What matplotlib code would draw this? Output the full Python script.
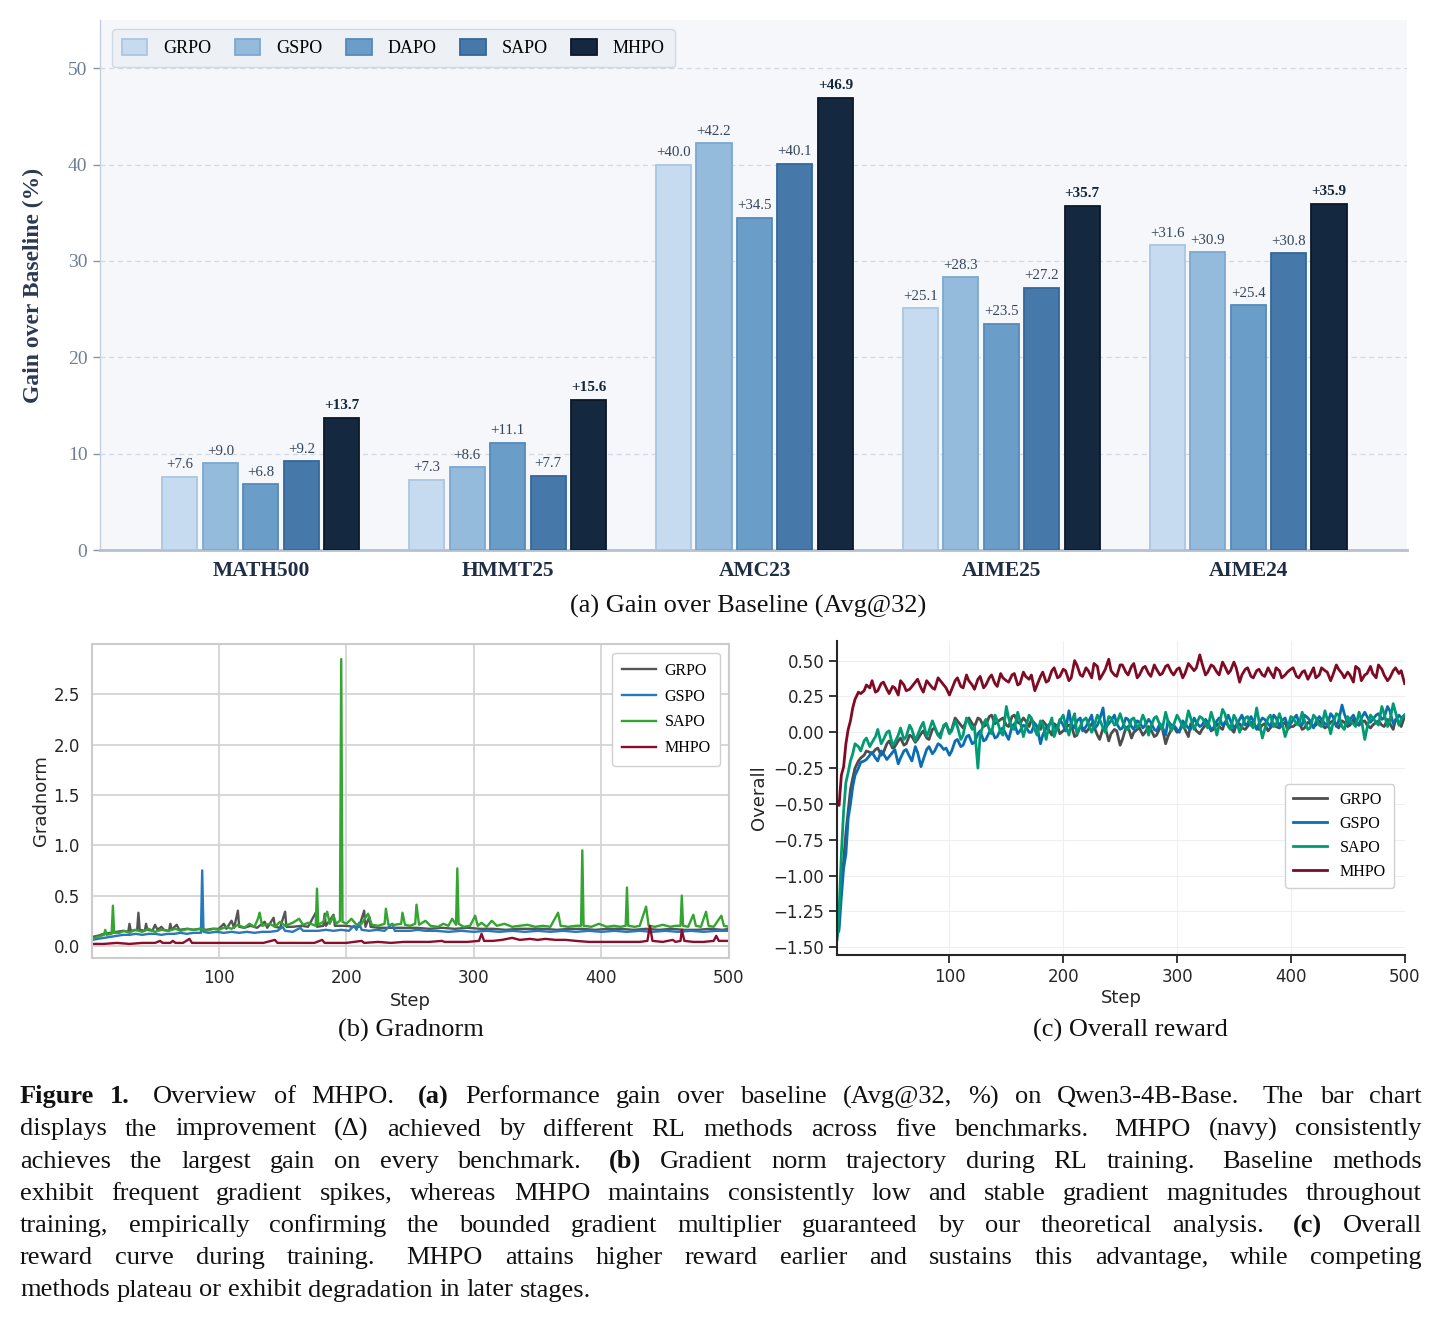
import matplotlib
matplotlib.use("Agg")
import matplotlib.pyplot as plt
from matplotlib.font_manager import FontProperties
import numpy as np

SERIF = "Liberation Serif"
SANS = "DejaVu Sans"
plt.rcParams["font.family"] = [SERIF, "DejaVu Serif"]
plt.rcParams["axes.unicode_minus"] = True

# ---------------- data: panel (a) ----------------
benchmarks = ["MATH500", "HMMT25", "AMC23", "AIME25", "AIME24"]
methods = ["GRPO", "GSPO", "DAPO", "SAPO", "MHPO"]
gain_grpo = [7.6, 7.3, 40.0, 25.1, 31.6]
gain_gspo = [9.0, 8.6, 42.2, 28.3, 30.9]
gain_dapo = [6.8, 11.1, 34.5, 23.5, 25.4]
gain_sapo = [9.2, 7.7, 40.1, 27.2, 30.8]
gain_mhpo = [13.7, 15.6, 46.9, 35.7, 35.9]

# ---------------- data: panel (b) gradnorm ----------------
g_grpo_steps = [1, 5, 10, 15, 20, 25, 29, 30, 31, 36, 37, 38, 42, 43, 44, 48, 50, 52, 55, 57, 61, 62, 63, 67, 69,
                75, 80, 85, 90, 95, 100, 104, 106, 110, 112, 115, 116, 120, 125, 130, 136, 138, 143, 144, 148,
                152, 153, 158, 165, 170, 176, 177, 182, 183, 184, 190, 191, 196, 200, 205, 210, 214, 215, 218,
                219, 225, 235, 245, 255, 265, 275, 285, 295, 305, 315, 325, 335, 345, 355, 365, 375, 385, 395,
                405, 415, 425, 435, 445, 455, 465, 475, 485, 495, 500]
g_grpo_vals = [0.09, 0.10, 0.12, 0.13, 0.14, 0.15, 0.14, 0.22, 0.15, 0.16, 0.33, 0.16, 0.15, 0.22, 0.16, 0.15,
               0.21, 0.16, 0.19, 0.16, 0.15, 0.22, 0.16, 0.21, 0.16, 0.17, 0.16, 0.17, 0.16, 0.17, 0.17, 0.22,
               0.17, 0.25, 0.18, 0.35, 0.19, 0.18, 0.20, 0.18, 0.24, 0.18, 0.28, 0.19, 0.18, 0.34, 0.19, 0.19,
               0.20, 0.19, 0.33, 0.19, 0.20, 0.32, 0.20, 0.31, 0.20, 0.20, 0.20, 0.19, 0.19, 0.35, 0.19, 0.29,
               0.19, 0.18, 0.18, 0.18, 0.18, 0.17, 0.18, 0.17, 0.18, 0.17, 0.17, 0.16, 0.17, 0.17, 0.17, 0.16,
               0.17, 0.17, 0.16, 0.17, 0.17, 0.16, 0.17, 0.16, 0.17, 0.16, 0.16, 0.17, 0.16, 0.17]

g_gspo_steps = [1, 5, 10, 15, 20, 25, 30, 35, 40, 45, 50, 55, 60, 65, 70, 75, 80, 86, 87, 88, 92, 98, 104, 110,
                116, 122, 128, 134, 140, 146, 150, 152, 158, 164, 166, 172, 178, 184, 190, 196, 202, 206, 208,
                210, 212, 218, 224, 230, 236, 238, 244, 250, 256, 262, 270, 280, 290, 300, 310, 320, 330, 340,
                350, 360, 370, 380, 390, 400, 410, 420, 430, 440, 450, 460, 470, 480, 490, 500]
g_gspo_vals = [0.06, 0.07, 0.08, 0.09, 0.10, 0.11, 0.11, 0.12, 0.11, 0.12, 0.12, 0.11, 0.12, 0.12, 0.13, 0.12,
               0.13, 0.13, 0.75, 0.14, 0.13, 0.14, 0.13, 0.14, 0.13, 0.14, 0.13, 0.14, 0.14, 0.15, 0.19, 0.15,
               0.14, 0.18, 0.15, 0.15, 0.15, 0.16, 0.15, 0.16, 0.15, 0.20, 0.16, 0.23, 0.16, 0.15, 0.16, 0.15,
               0.22, 0.15, 0.15, 0.15, 0.16, 0.15, 0.15, 0.14, 0.15, 0.14, 0.15, 0.14, 0.15, 0.14, 0.15, 0.14,
               0.15, 0.14, 0.15, 0.14, 0.15, 0.14, 0.15, 0.14, 0.15, 0.14, 0.15, 0.14, 0.15, 0.15]

g_sapo_steps = [1, 5, 10, 11, 12, 16, 17, 18, 22, 26, 30, 34, 40, 45, 50, 55, 60, 66, 70, 76, 80, 86, 90, 96,
                100, 106, 110, 115, 120, 124, 128, 131, 132, 134, 140, 144, 148, 152, 158, 163, 166, 170, 176,
                177, 178, 182, 185, 187, 190, 192, 195, 196, 197, 200, 204, 208, 212, 217, 220, 225, 230, 231,
                233, 238, 243, 244, 246, 250, 254, 255, 257, 262, 266, 272, 276, 280, 283, 286, 287, 288, 292,
                297, 301, 303, 306, 310, 314, 318, 324, 330, 336, 342, 348, 354, 360, 366, 368, 374, 380, 384,
                385, 386, 392, 398, 404, 410, 415, 419, 420, 421, 426, 430, 435, 437, 442, 448, 454, 458, 462,
                463, 464, 468, 472, 474, 478, 482, 484, 488, 494, 496, 500]
g_sapo_vals = [0.07, 0.09, 0.11, 0.16, 0.11, 0.12, 0.40, 0.13, 0.13, 0.15, 0.13, 0.16, 0.14, 0.17, 0.14, 0.16,
               0.15, 0.17, 0.15, 0.17, 0.16, 0.17, 0.15, 0.17, 0.16, 0.19, 0.17, 0.21, 0.18, 0.22, 0.19, 0.28,
               0.33, 0.20, 0.22, 0.19, 0.24, 0.20, 0.23, 0.27, 0.21, 0.23, 0.20, 0.57, 0.21, 0.24, 0.34, 0.22,
               0.30, 0.22, 0.25, 2.85, 0.24, 0.22, 0.27, 0.21, 0.22, 0.32, 0.21, 0.20, 0.22, 0.37, 0.21, 0.21,
               0.22, 0.33, 0.21, 0.20, 0.22, 0.41, 0.21, 0.25, 0.20, 0.19, 0.22, 0.20, 0.27, 0.21, 0.77, 0.22,
               0.19, 0.20, 0.30, 0.20, 0.23, 0.19, 0.25, 0.20, 0.22, 0.19, 0.20, 0.21, 0.19, 0.20, 0.19, 0.33,
               0.20, 0.19, 0.20, 0.20, 0.95, 0.20, 0.19, 0.22, 0.19, 0.20, 0.19, 0.20, 0.58, 0.20, 0.19, 0.20,
               0.39, 0.20, 0.19, 0.21, 0.19, 0.20, 0.20, 0.50, 0.20, 0.19, 0.31, 0.20, 0.19, 0.34, 0.20, 0.19,
               0.30, 0.20, 0.19]

g_mhpo_steps = [1, 10, 20, 30, 40, 50, 54, 56, 62, 64, 66, 72, 77, 79, 85, 95, 105, 115, 125, 135, 144, 146,
                155, 165, 175, 181, 183, 190, 200, 212, 214, 225, 235, 245, 255, 265, 275, 277, 285, 295, 304,
                306, 308, 315, 322, 330, 336, 344, 350, 356, 364, 372, 380, 390, 400, 410, 420, 430, 436, 438,
                440, 448, 456, 458, 462, 463, 465, 472, 480, 488, 490, 492, 500]
g_mhpo_vals = [0.02, 0.02, 0.03, 0.02, 0.03, 0.03, 0.05, 0.03, 0.03, 0.05, 0.03, 0.03, 0.07, 0.03, 0.03, 0.03,
               0.03, 0.03, 0.03, 0.03, 0.06, 0.03, 0.03, 0.03, 0.03, 0.06, 0.03, 0.03, 0.03, 0.05, 0.03, 0.04,
               0.03, 0.04, 0.04, 0.04, 0.05, 0.04, 0.04, 0.04, 0.05, 0.12, 0.05, 0.05, 0.06, 0.08, 0.06, 0.07,
               0.06, 0.07, 0.06, 0.06, 0.05, 0.04, 0.04, 0.04, 0.04, 0.04, 0.05, 0.20, 0.05, 0.04, 0.06, 0.04,
               0.05, 0.16, 0.05, 0.04, 0.04, 0.05, 0.10, 0.05, 0.05]

# ---------------- data: panel (c) overall reward ----------------
r_steps = [1, 3, 5, 7, 9, 11, 13, 15, 17, 20] + list(range(25, 505, 5))
r_mhpo = [-0.48, -0.51, -0.30, -0.24, -0.08, 0.02, 0.08, 0.17, 0.23, 0.28,
          0.29, 0.31, 0.28, 0.34, 0.30, 0.32, 0.26, 0.33, 0.30, 0.35,
          0.31, 0.36, 0.31, 0.38, 0.33, 0.26, 0.36, 0.32, 0.40, 0.33,
          0.37, 0.31, 0.38, 0.34, 0.41, 0.36, 0.40, 0.33, 0.42, 0.37,
          0.29, 0.39, 0.35, 0.43, 0.38, 0.44, 0.36, 0.50, 0.40, 0.45,
          0.38, 0.46, 0.41, 0.51, 0.40, 0.47, 0.42, 0.46, 0.38, 0.45,
          0.41, 0.47, 0.40, 0.46, 0.42, 0.44, 0.38, 0.48, 0.43, 0.54,
          0.40, 0.47, 0.42, 0.49, 0.41, 0.49, 0.35, 0.44, 0.39, 0.43,
          0.40, 0.45, 0.38, 0.43, 0.40, 0.44, 0.39, 0.42, 0.37, 0.45,
          0.40, 0.43, 0.36, 0.47, 0.41, 0.42, 0.35, 0.44, 0.40, 0.46,
          0.38, 0.44, 0.36, 0.43, 0.41, 0.34]
r_grpo = [-1.45, -1.30, -1.05, -0.90, -0.70, -0.55, -0.40, -0.32, -0.25, -0.20,
          -0.16, -0.14, -0.12, -0.16, -0.08, -0.11, -0.06, -0.09, -0.02, -0.07,
          -0.01, -0.04, 0.02, -0.02, 0.04, 0.00, 0.10, 0.05, 0.08, 0.06,
          0.10, 0.04, 0.11, 0.06, 0.09, 0.05, 0.11, 0.07, 0.10, 0.04,
          0.06, 0.02, 0.05, -0.02, 0.04, 0.01, 0.05, -0.03, 0.04, 0.00,
          0.06, -0.02, 0.03, -0.06, 0.02, -0.09, 0.03, -0.04, 0.02, -0.02,
          0.04, -0.03, 0.03, -0.08, 0.02, 0.00, 0.05, -0.03, 0.04, -0.01,
          0.05, 0.01, 0.06, 0.02, 0.05, 0.00, 0.06, 0.02, 0.07, 0.03,
          0.05, 0.01, 0.06, 0.03, 0.07, 0.04, 0.06, 0.02, 0.07, 0.04,
          0.08, 0.03, 0.07, 0.05, 0.08, 0.04, 0.09, 0.05, 0.08, 0.03,
          0.07, 0.05, 0.09, 0.02, 0.07, 0.11]
r_gspo = [-1.42, -1.38, -1.15, -0.95, -0.85, -0.60, -0.50, -0.38, -0.30, -0.25,
          -0.20, -0.16, -0.18, -0.13, -0.19, -0.14, -0.22, -0.13, -0.17, -0.10,
          -0.24, -0.12, -0.15, -0.08, -0.12, -0.16, -0.06, -0.10, -0.03, -0.08,
          -0.01, -0.06, 0.00, -0.04, 0.02, -0.02, 0.04, -0.01, 0.05, 0.00,
          0.06, -0.08, 0.03, 0.07, 0.02, 0.05, 0.15, 0.03, 0.10, 0.04,
          0.12, 0.05, 0.17, 0.06, 0.12, 0.02, 0.10, 0.04, 0.08, 0.03,
          0.09, 0.02, 0.06, -0.02, 0.05, 0.02, 0.08, 0.03, 0.10, 0.04,
          0.09, 0.02, 0.08, 0.05, 0.12, 0.03, 0.09, 0.05, 0.11, 0.02,
          0.10, 0.06, 0.12, 0.04, 0.10, 0.06, 0.12, 0.05, 0.10, 0.03,
          0.11, 0.06, 0.13, 0.04, 0.19, 0.06, 0.12, 0.05, 0.14, 0.07,
          0.12, 0.09, 0.18, 0.06, 0.12, 0.12]
r_sapo = [-1.45, -1.25, -0.85, -0.55, -0.35, -0.28, -0.20, -0.15, -0.08, -0.10,
          -0.06, -0.10, -0.03, -0.08, 0.00, -0.09, -0.02, -0.05, 0.05, -0.06,
          0.04, -0.03, 0.08, -0.02, 0.05, -0.01, 0.08, -0.05, 0.10, 0.02,
          -0.25, 0.06, 0.02, 0.12, 0.00, 0.18, 0.03, 0.14, -0.03, 0.12,
          0.02, 0.08, -0.05, 0.10, 0.04, 0.12, -0.02, 0.13, 0.04, 0.10,
          0.00, 0.12, 0.03, 0.11, 0.05, 0.13, 0.02, 0.09, 0.03, 0.12,
          -0.02, 0.10, 0.05, 0.14, 0.01, 0.12, 0.04, 0.15, 0.02, 0.11,
          0.06, 0.14, -0.02, 0.16, 0.04, 0.12, 0.00, 0.10, 0.05, 0.17,
          -0.04, 0.10, 0.04, 0.13, -0.03, 0.11, 0.06, 0.14, 0.02, 0.12,
          0.05, 0.15, -0.01, 0.13, 0.04, 0.11, 0.06, 0.14, -0.05, 0.12,
          0.07, 0.18, 0.04, 0.20, 0.05, 0.12]

# readings between the main samples (steps 22, 27, ..., 497)
r_steps_mid = list(range(22, 502, 5))
r_mhpo_mid = [0.27, 0.33, 0.36, 0.29, 0.35, 0.27, 0.31, 0.36, 0.29, 0.32,
              0.37, 0.28, 0.34, 0.30, 0.36, 0.31, 0.30, 0.38, 0.31, 0.36,
              0.30, 0.39, 0.33, 0.40, 0.32, 0.38, 0.35, 0.41, 0.34, 0.39,
              0.40, 0.33, 0.42, 0.36, 0.45, 0.39, 0.43, 0.38, 0.47, 0.39,
              0.43, 0.48, 0.37, 0.44, 0.43, 0.39, 0.47, 0.40, 0.48, 0.40,
              0.46, 0.39, 0.44, 0.41, 0.47, 0.40, 0.45, 0.41, 0.46, 0.45,
              0.48, 0.42, 0.46, 0.40, 0.46, 0.43, 0.45, 0.40, 0.45, 0.38,
              0.44, 0.39, 0.42, 0.45, 0.38, 0.42, 0.45, 0.38, 0.43, 0.40,
              0.38, 0.45, 0.42, 0.40, 0.44, 0.38, 0.40, 0.46, 0.36, 0.41,
              0.41, 0.47, 0.40, 0.38, 0.45, 0.43]
r_grpo_mid = [-0.18, -0.13, -0.15, -0.11, -0.14, -0.06, -0.10, -0.04, -0.08, -0.03,
              -0.05, 0.01, -0.05, 0.03, -0.01, 0.06, 0.02, 0.08, 0.03, 0.10,
              0.04, 0.09, 0.05, 0.12, 0.07, 0.10, 0.04, 0.12, 0.06, 0.08,
              0.09, 0.04, 0.08, 0.02, 0.06, -0.01, 0.03, 0.05, -0.02, 0.03,
              0.02, 0.04, -0.05, 0.03, -0.01, 0.01, -0.05, 0.04, 0.00, 0.03,
              0.00, 0.02, -0.02, 0.03, -0.03, 0.04, 0.01, 0.02, 0.06, 0.01,
              0.02, 0.06, 0.02, 0.04, 0.07, 0.03, 0.05, 0.03, 0.04, 0.06,
              0.02, 0.06, 0.03, 0.04, 0.05, 0.02, 0.04, 0.07, 0.03, 0.06,
              0.05, 0.06, 0.04, 0.08, 0.03, 0.07, 0.05, 0.06, 0.07, 0.05,
              0.05, 0.08, 0.04, 0.06, 0.09, 0.04]
r_gspo_mid = [-0.21, -0.19, -0.14, -0.20, -0.15, -0.17, -0.12, -0.18, -0.12, -0.20,
              -0.14, -0.19, -0.10, -0.13, -0.09, -0.11, -0.13, -0.05, -0.09, -0.02,
              -0.07, 0.01, -0.05, 0.02, -0.03, 0.03, -0.05, 0.06, 0.01, 0.04,
              0.00, 0.04, -0.02, 0.05, 0.04, 0.09, 0.01, 0.06, 0.08, 0.01,
              0.07, 0.02, 0.09, 0.03, 0.08, 0.06, 0.03, 0.09, 0.02, 0.07,
              0.05, 0.07, 0.01, 0.04, 0.08, 0.05, 0.00, 0.06, 0.02, 0.07,
              0.05, 0.07, 0.03, 0.10, 0.06, 0.08, 0.05, 0.12, 0.06, 0.08,
              0.06, 0.09, 0.04, 0.10, 0.08, 0.05, 0.09, 0.07, 0.12, 0.08,
              0.07, 0.09, 0.05, 0.11, 0.08, 0.13, 0.09, 0.08, 0.10, 0.11,
              0.09, 0.13, 0.10, 0.15, 0.08, 0.10]
r_sapo_mid = [-0.13, -0.04, -0.07, 0.02, -0.05, 0.01, -0.07, 0.03, -0.03, 0.02,
              -0.02, 0.07, 0.01, 0.04, -0.04, 0.06, 0.01, 0.04, -0.02, 0.07,
              0.04, -0.02, 0.09, -0.01, 0.08, -0.02, 0.10, 0.02, 0.08, 0.03,
              0.10, -0.02, 0.06, 0.03, -0.03, 0.08, 0.05, 0.06, -0.01, 0.08,
              0.06, 0.04, 0.09, 0.00, 0.10, 0.06, 0.08, 0.02, 0.10, 0.05,
              0.08, 0.04, 0.11, 0.02, 0.08, 0.05, 0.09, 0.03, 0.10, 0.06,
              0.10, 0.03, 0.09, 0.05, 0.13, 0.02, 0.09, 0.04, 0.11, 0.03,
              0.08, 0.02, 0.12, 0.05, 0.08, 0.02, 0.10, 0.05, 0.08, 0.03,
              0.10, 0.04, 0.09, 0.06, 0.12, 0.02, 0.08, 0.04, 0.09, 0.03,
              0.10, 0.05, 0.13, 0.08, 0.14, 0.09]

caption_lines = [
    "**Figure 1.** Overview of MHPO. **(a)** Performance gain over baseline (Avg@32, %) on Qwen3-4B-Base. The bar chart",
    "displays the improvement (Δ) achieved by different RL methods across five benchmarks. MHPO (navy) consistently",
    "achieves the largest gain on every benchmark. **(b)** Gradient norm trajectory during RL training. Baseline methods",
    "exhibit frequent gradient spikes, whereas MHPO maintains consistently low and stable gradient magnitudes throughout",
    "training, empirically confirming the bounded gradient multiplier guaranteed by our theoretical analysis. **(c)** Overall",
    "reward curve during training. MHPO attains higher reward earlier and sustains this advantage, while competing",
    "methods plateau or exhibit degradation in later stages.",
]

# ---------------- figure ----------------
W, H = 1440, 1322
fig = plt.figure(figsize=(W / 100, H / 100), dpi=100)
fig.patch.set_facecolor("white")


def fx(px):
    return px / W


def fy(py):
    return 1 - py / H


# ---------------- panel (a) ----------------
axa = fig.add_axes([fx(100), fy(550), fx(1407) - fx(100), fy(20) - fy(550)])
axa.set_facecolor("#f5f7fa")
bar_fc = ["#c6dbef", "#94bbdc", "#6a9ec9", "#4679a9", "#14283f"]
bar_ec = ["#aac6e1", "#7ca8d0", "#5589bb", "#35679a", "#0b1828"]
series_a = [gain_grpo, gain_gspo, gain_dapo, gain_sapo, gain_mhpo]
xc = np.arange(len(benchmarks))
pitch, bw = 0.164, 0.142
for i, (name, vals) in enumerate(zip(methods, series_a)):
    xs = xc + (i - 2) * pitch
    axa.bar(xs, vals, width=bw, color=bar_fc[i], edgecolor=bar_ec[i], linewidth=1.3,
            label=name, zorder=3)
    is_best = (name == "MHPO")
    for xi, v in zip(xs, vals):
        axa.annotate(f"+{v:.1f}", (xi, v), xytext=(0, 4), textcoords="offset points",
                     ha="center", va="bottom", fontsize=11 if is_best else 10.7,
                     fontweight="bold" if is_best else "normal",
                     color="#15263a" if is_best else "#34445a", family=SERIF, zorder=4)
axa.set_xlim(-0.652, 4.644)
axa.set_ylim(0, 55)
axa.set_yticks([0, 10, 20, 30, 40, 50])
axa.set_xticks(xc)
axa.set_xticklabels(benchmarks, fontsize=15.5, fontweight="bold", color="#1f2e44", family=SERIF)
axa.tick_params(axis="x", length=0, pad=8)
axa.tick_params(axis="y", length=5, width=1, color="#8795a8", labelsize=14, labelcolor="#6e7f94", pad=4)
for lab in axa.get_yticklabels():
    lab.set_fontfamily(SERIF)
axa.yaxis.grid(True, linestyle=(0, (4, 3)), color="#d3d9e2", linewidth=0.9)
axa.set_axisbelow(True)
for s in ["top", "right"]:
    axa.spines[s].set_visible(False)
axa.spines["left"].set_color("#c5cfdb")
axa.spines["left"].set_linewidth(1.0)
axa.spines["bottom"].set_color("#b4c0cf")
axa.spines["bottom"].set_linewidth(2.0)
leg = axa.legend(loc="upper left", bbox_to_anchor=(0.0092, 0.983), borderaxespad=0, ncol=5,
                 prop={"family": SERIF, "size": 13}, handlelength=1.4, handleheight=1.0,
                 handletextpad=0.9, columnspacing=1.3, borderpad=0.55, fancybox=True, frameon=True)
fr = leg.get_frame()
fr.set_facecolor("#edf1f6")
fr.set_edgecolor("#cfd8e3")
fr.set_alpha(1)
fr.set_linewidth(1.0)
fig.text(fx(33), fy(285), "Gain over Baseline (%)", rotation=90, ha="center", va="center",
         fontsize=17, fontweight="bold", color="#2b3a52", family=SERIF)
fig.text(fx(748), fy(606), "(a) Gain over Baseline (Avg@32)", ha="center", va="center",
         fontsize=19, family=SERIF, color="#111111")

# ---------------- panel (b) ----------------
axb = fig.add_axes([fx(92.5), fy(958), fx(729) - fx(92.5), fy(644) - fy(958)])
axb.set_facecolor("white")
for s in axb.spines.values():
    s.set_color("#cccccc")
    s.set_linewidth(1.5)
axb.grid(True, color="#d4d4d4", linewidth=1.3)
axb.set_axisbelow(True)
axb.plot(g_grpo_steps, g_grpo_vals, color="#555555", lw=1.7, label="GRPO")
axb.plot(g_gspo_steps, g_gspo_vals, color="#2878bd", lw=1.7, label="GSPO")
axb.plot(g_sapo_steps, g_sapo_vals, color="#34a530", lw=1.7, label="SAPO")
axb.plot(g_mhpo_steps, g_mhpo_vals, color="#8c0c2b", lw=1.7, label="MHPO")
axb.set_xlim(1, 500)
axb.set_ylim(-0.12, 3.0)
axb.set_xticks([100, 200, 300, 400, 500])
axb.set_yticks([0.0, 0.5, 1.0, 1.5, 2.0, 2.5])
axb.tick_params(length=0, labelsize=12, labelcolor="#262626")
axb.tick_params(axis="y", pad=9)
axb.tick_params(axis="x", pad=8)
for lab in axb.get_xticklabels() + axb.get_yticklabels():
    lab.set_fontfamily(SANS)
legb = axb.legend(loc="upper right", bbox_to_anchor=(0.986, 0.971), borderaxespad=0,
                  prop={"family": SERIF, "size": 11.5}, handlelength=2.1, labelspacing=0.62,
                  handletextpad=0.55, borderpad=0.6, frameon=True, fancybox=True)
legb.get_frame().set_edgecolor("#d0d0d0")
legb.get_frame().set_alpha(1)
fig.text(fx(41), fy(801), "Gradnorm", rotation=90, ha="center", va="center", fontsize=13,
         family=SANS, color="#262626")
fig.text(fx(410), fy(1001), "Step", ha="center", va="center", fontsize=13, family=SANS, color="#262626")
fig.text(fx(411), fy(1030), "(b) Gradnorm", ha="center", va="center", fontsize=19, family=SERIF,
         color="#111111")

# ---------------- panel (c) ----------------
def merged(steps_a, vals_a, steps_b, vals_b):
    st = np.array(list(steps_a) + list(steps_b))
    vl = np.array(list(vals_a) + list(vals_b))
    order = np.argsort(st, kind="stable")
    return st[order], vl[order]


axc = fig.add_axes([fx(836.8), fy(955), fx(1404.6) - fx(836.8), fy(641) - fy(955)])
axc.set_facecolor("white")
for s in ["top", "right"]:
    axc.spines[s].set_visible(False)
for s in ["left", "bottom"]:
    axc.spines[s].set_color("#262626")
    axc.spines[s].set_linewidth(1.5)
axc.grid(True, color="#efefef", linewidth=0.8)
axc.set_axisbelow(True)
for name, main, mid, col in [("GRPO", r_grpo, r_grpo_mid, "#4d4d4d"),
                             ("GSPO", r_gspo, r_gspo_mid, "#0a6db3"),
                             ("SAPO", r_sapo, r_sapo_mid, "#009b72"),
                             ("MHPO", r_mhpo, r_mhpo_mid, "#7f0a24")]:
    st, vl = merged(r_steps, main, r_steps_mid, mid)
    axc.plot(st, vl, color=col, lw=2.0, label=name)
axc.set_xlim(1, 500)
axc.set_ylim(-1.554, 0.637)
axc.set_xticks([100, 200, 300, 400, 500])
axc.set_yticks([-1.5, -1.25, -1.0, -0.75, -0.5, -0.25, 0.0, 0.25, 0.5])
axc.set_yticklabels(["−1.50", "−1.25", "−1.00", "−0.75", "−0.50", "−0.25", "0.00", "0.25", "0.50"])
axc.tick_params(direction="out", length=6, width=1.3, color="#262626", labelsize=12,
                labelcolor="#262626", pad=3)
for lab in axc.get_xticklabels() + axc.get_yticklabels():
    lab.set_fontfamily(SANS)
legc = axc.legend(loc="upper right", bbox_to_anchor=(0.981, 0.545), borderaxespad=0,
                  prop={"family": SERIF, "size": 11.5}, handlelength=2.1, labelspacing=0.5,
                  handletextpad=0.8, borderpad=0.5, frameon=True, fancybox=True)
legc.get_frame().set_edgecolor("#d0d0d0")
legc.get_frame().set_alpha(1)
fig.text(fx(759), fy(798), "Overall", rotation=90, ha="center", va="center", fontsize=13,
         family=SANS, color="#262626")
fig.text(fx(1121), fy(998), "Step", ha="center", va="center", fontsize=13, family=SANS, color="#262626")
fig.text(fx(1130), fy(1030), "(c) Overall reward", ha="center", va="center", fontsize=19, family=SERIF,
         color="#111111")


# ---------------- caption (justified) ----------------
def parse(line):
    toks, bold = [], False
    for w in line.split(" "):
        if w.startswith("**"):
            w = w[2:]
            bold = True
        b = bold
        if w.endswith("**"):
            w = w[:-2]
            bold = False
        toks.append((w, b))
    return toks


renderer = fig.canvas.get_renderer()


def width_px(text, size, bold):
    fp = FontProperties(family=SERIF, size=size, weight="bold" if bold else "normal")
    w, h, d = renderer.get_text_width_height_descent(text, fp, ismath=False)
    return w


parsed = [parse(l) for l in caption_lines]
left_px, right_px = 20.0, 1422.0
span = right_px - left_px
base_size = 18.0


def natural_width(toks, size):
    sp = width_px("x x", size, False) - width_px("xx", size, False)
    return sum(width_px(w, size, b) for w, b in toks) + sp * (len(toks) - 1)


maxw = max(natural_width(t, base_size) for t in parsed[:-1])
cap_size = min(19.0, base_size * (span - 25) / maxw)
space_w = width_px("x x", cap_size, False) - width_px("xx", cap_size, False)

for li, toks in enumerate(parsed):
    widths = [width_px(w, cap_size, b) for w, b in toks]
    weights = [1.45 if toks[k][0].endswith(".") else 1.0 for k in range(len(toks) - 1)]
    if li < len(parsed) - 1:
        unit = (span - sum(widths)) / sum(weights)
    else:
        unit = space_w
    x = left_px
    ybase = 1103.3 + 32.2 * li
    for k, ((w, b), wd) in enumerate(zip(toks, widths)):
        fig.text(fx(x), fy(ybase), w, ha="left", va="baseline", fontsize=cap_size,
                 fontweight="bold" if b else "normal", family=SERIF, color="#111111")
        if k < len(weights):
            x += wd + unit * weights[k]

fig.savefig("out.png", dpi=100, facecolor="white")
